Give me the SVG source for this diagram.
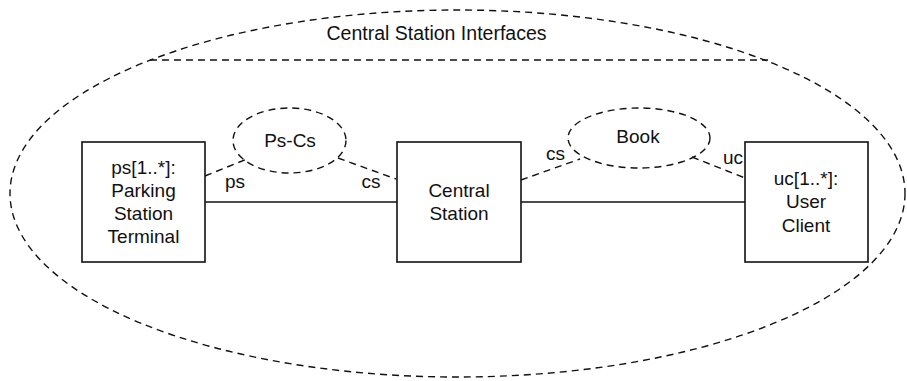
<svg xmlns="http://www.w3.org/2000/svg" width="907" height="381" viewBox="0 0 907 381">
<style>
text{font-family:"Liberation Sans",Arial,sans-serif;font-size:19px;fill:#111;text-anchor:middle}
.box{fill:#fff;stroke:#111;stroke-width:1.6}
.dash{fill:none;stroke:#111;stroke-width:1.4;stroke-dasharray:7 5}
.solid{fill:none;stroke:#111;stroke-width:1.4}
</style>
<rect width="907" height="381" fill="#fff"/>
<g id="boundary">
<ellipse class="dash" cx="457.5" cy="193.5" rx="447.5" ry="183.5"/>
<line class="dash" x1="150" y1="60" x2="768" y2="60"/>
<text x="436.5" y="40" style="font-size:19.5px">Central Station Interfaces</text>
</g>
<g id="connectors">
<line class="solid" x1="205" y1="202" x2="397" y2="202"/>
<line class="solid" x1="521" y1="202" x2="745" y2="202"/>
<line class="dash" x1="205" y1="176" x2="247" y2="159"/>
<line class="dash" x1="338" y1="158" x2="396" y2="179"/>
<line class="dash" x1="521" y1="180" x2="580" y2="159"/>
<line class="dash" x1="692" y1="157" x2="745" y2="178"/>
<text x="235" y="188">ps</text>
<text x="371" y="188">cs</text>
<text x="555.5" y="160">cs</text>
<text x="733" y="164">uc</text>
</g>
<g id="pscs">
<ellipse class="dash" cx="289.5" cy="140.5" rx="56.5" ry="32.5"/>
<text x="290" y="147">Ps-Cs</text>
</g>
<g id="book">
<ellipse class="dash" cx="639" cy="138" rx="71" ry="30"/>
<text x="638" y="143">Book</text>
</g>
<g id="parking">
<rect class="box" x="82" y="142" width="123" height="120"/>
<text x="143.5" y="174">ps[1..*]:</text>
<text x="143.5" y="197">Parking</text>
<text x="143.5" y="220">Station</text>
<text x="143.5" y="243">Terminal</text>
</g>
<g id="central">
<rect class="box" x="397" y="142" width="124" height="120"/>
<text x="459" y="197">Central</text>
<text x="459" y="220">Station</text>
</g>
<g id="user">
<rect class="box" x="745" y="142" width="123" height="120"/>
<text x="806" y="185">uc[1..*]:</text>
<text x="806" y="208">User</text>
<text x="806" y="231.5">Client</text>
</g>
</svg>
